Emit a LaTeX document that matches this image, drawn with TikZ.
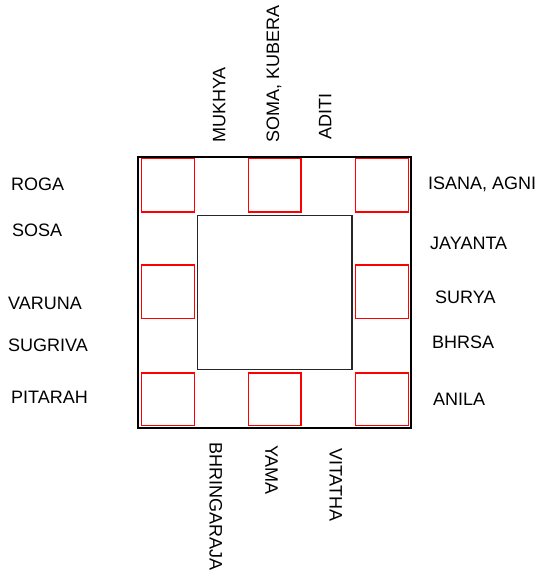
\documentclass[tikz,border=0pt]{standalone}
\usepackage{fontspec}
\setmainfont{Liberation Sans}
\begin{document}
\begin{tikzpicture}[x=1pt,y=-1pt,
  outerbox/.style={draw=black,line width=1.6pt},
  innerbox/.style={draw=black!85,line width=1.6pt},
  cell/.style={draw=red,line width=1.4pt},
  lbl/.style={inner sep=0pt,font=\fontsize{18pt}{20pt}\selectfont,text height=12.9pt,text depth=0pt,anchor=west,text=black}]
\useasboundingbox (0,0) rectangle (540,575);
\fill[white] (0,0) rectangle (540,575);
% outer and inner squares
\draw[outerbox] (138,157) rectangle (411,428);
\draw[innerbox] (197.5,215.5) rectangle (352,369.5);
% red cells
\foreach \x in {141.7,248.3,355.7}{
  \draw[cell] (\x,158.3) rectangle ++(52.7,53.7);
  \draw[cell] (\x,373) rectangle ++(52.7,52.3);
}
\draw[cell] (141.7,265) rectangle ++(52.7,53.7);
\draw[cell] (355.7,265) rectangle ++(52.7,53.7);
% left labels
\node[lbl] (roga) at (11,184) {ROGA};
\node[lbl] (sosa) at (12,230) {SOSA};
\node[lbl] (varuna) at (8,302.7) {VARUNA};
\node[lbl] (sugriva) at (8,345) {SUGRIVA};
\node[lbl] (pitarah) at (11,397) {PITARAH};
% right labels
\node[lbl] (isana) at (428,183) {ISANA, AGNI};
\node[lbl] (jayanta) at (430,243) {JAYANTA};
\node[lbl] (surya) at (435,297) {SURYA};
\node[lbl] (bhrsa) at (432,342) {BHRSA};
\node[lbl] (anila) at (433,399) {ANILA};
% top labels
\node[lbl,rotate=90] (mukhya) at (219,143) {MUKHYA};
\node[lbl,rotate=90] (soma) at (272.7,143) {SOMA, KUBERA};
\node[lbl,rotate=90] (aditi) at (325,140) {ADITI};
% bottom labels
\node[lbl,rotate=-90] (bhringaraja) at (216,442) {BHRINGARAJA};
\node[lbl,rotate=-90] (yama) at (271.7,445) {YAMA};
\node[lbl,rotate=-90] (vitatha) at (336,448) {VITATHA};
\end{tikzpicture}
\end{document}
